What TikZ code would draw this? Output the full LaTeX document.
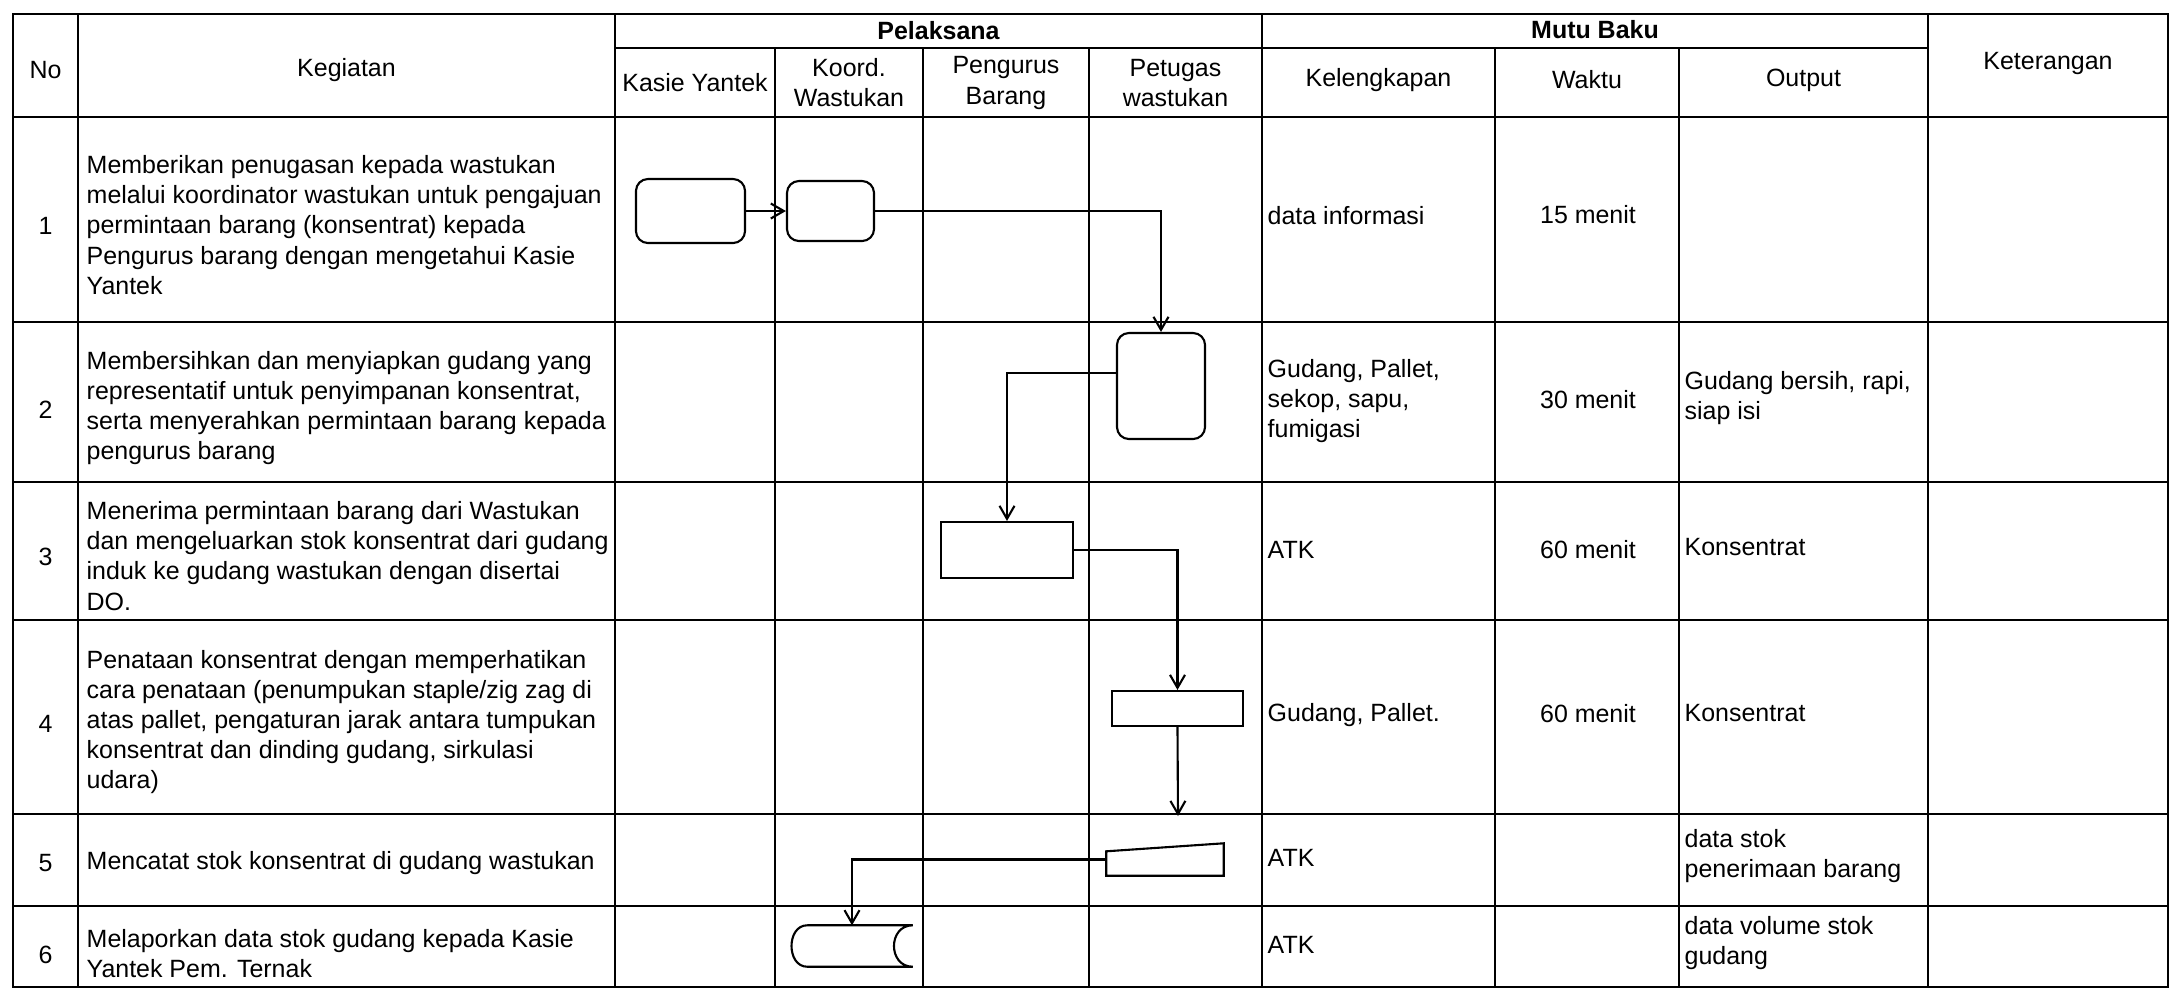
\documentclass[tikz,border=0pt]{standalone}
\usepackage{fontspec}
\setmainfont{Liberation Sans}
\usetikzlibrary{
    arrows.meta,
}
\tikzstyle{cell} = [inner sep=0pt, align=left,
    font=\fontsize{7.1pt}{8.55pt}\selectfont]
\tikzstyle{head} = [cell, align=center]
\tikzstyle{headb} = [head, font=\fontsize{7.1pt}{8.55pt}\selectfont\bfseries]
\tikzstyle{rbox} = [rectangle, draw, rounded corners=0.12cm, line width=0.6pt]
\tikzstyle{sbox} = [rectangle, draw, line width=0.6pt]
\tikzstyle{ghost} = [rectangle, inner sep=0pt]
\tikzstyle{line} = [draw, line width=0.6pt]
\tikzstyle{grid} = [draw, line width=0.7pt]

\begin{document}
\begin{tikzpicture}[x=0.01cm, y=-0.01cm,
        >={Straight Barb[length=0.13cm,width=0.15cm]}]
        \useasboundingbox (0,0) rectangle (2177,996);
        % Table frame
        \draw [grid] (13,14) rectangle (2168,987);
        \foreach \y in {117,322,482,620,814,906}
            \draw [grid] (13,\y) -- (2168,\y);
        \draw [grid] (615,48) -- (1928,48);
        \foreach \x in {78,615,1262,1928}
            \draw [grid] (\x,14) -- (\x,987);
        \foreach \x in {775,923,1089,1495,1679}
            \draw [grid] (\x,48) -- (\x,987);
        % Header
        \node [head] (no) at (45.5,70) {No};
        \node [head] (kegiatan) at (346.5,70) {Kegiatan};
        \node [headb] (pelaksana) at (938.5,31) {Pelaksana};
        \node [headb] (mutu) at (1595,30) {Mutu Baku};
        \node [head] (keterangan) at (2048,63) {Keterangan};
        \node [head] (kasie) at (695,83) {Kasie Yantek};
        \node [head] (koord) at (849,83) {Koord.\\Wastukan};
        \node [head] (pengurus) at (1006,83) {Pengurus\\Barang};
        \node [head] (petugas) at (1175.5,83) {Petugas\\wastukan};
        \node [head] (kelengkapan) at (1378.5,80) {Kelengkapan};
        \node [head] (waktu) at (1587,80) {Waktu};
        \node [head] (output) at (1803.5,80) {Output};
        % Numbers
        \node [head] (n1) at (45.5,226) {1};
        \node [head] (n2) at (45.5,410) {2};
        \node [head] (n3) at (45.5,557) {3};
        \node [head] (n4) at (45.5,724) {4};
        \node [head] (n5) at (45.5,863) {5};
        \node [head] (n6) at (45.5,955) {6};
        % Kegiatan
        \node [cell, anchor=west] (keg1) at (86,225) {Memberikan penugasan kepada wastukan\\melalui koordinator wastukan untuk pengajuan\\permintaan barang (konsentrat) kepada\\Pengurus barang dengan mengetahui Kasie\\Yantek};
        \node [cell, anchor=west] (keg2) at (86,408) {Membersihkan dan menyiapkan gudang yang\\representatif untuk penyimpanan konsentrat,\\serta menyerahkan permintaan barang kepada\\pengurus barang};
        \node [cell, anchor=west] (keg3) at (86,556) {Menerima permintaan barang dari Wastukan\\dan mengeluarkan stok konsentrat dari gudang\\induk ke gudang wastukan dengan disertai\\DO.};
        \node [cell, anchor=west] (keg4) at (86,722) {Penataan konsentrat dengan memperhatikan\\cara penataan (penumpukan staple/zig zag di\\atas pallet, pengaturan jarak antara tumpukan\\konsentrat dan dinding gudang, sirkulasi\\udara)};
        \node [cell, anchor=west] (keg5) at (86,863) {Mencatat stok konsentrat di gudang wastukan};
        \node [cell, anchor=west] (keg6) at (86,954) {Melaporkan data stok gudang kepada Kasie\\Yantek Pem. Ternak};
        % Mutu baku
        \node [cell, anchor=west] (kel1) at (1267,216) {data informasi};
        \node [cell, anchor=west] (kel2) at (1267,401) {Gudang, Pallet,\\sekop, sapu,\\fumigasi};
        \node [cell, anchor=west] (kel3) at (1267,550) {ATK};
        \node [cell, anchor=west] (kel4) at (1267,715) {Gudang, Pallet.};
        \node [cell, anchor=west] (kel5) at (1267,858) {ATK};
        \node [cell, anchor=west] (kel6) at (1267,945) {ATK};
        \node [head] (wak1) at (1588,215) {15 menit};
        \node [head] (wak2) at (1588,400) {30 menit};
        \node [head] (wak3) at (1588,550) {60 menit};
        \node [head] (wak4) at (1588,714) {60 menit};
        \node [cell, anchor=west] (out2) at (1684,398) {Gudang bersih, rapi,\\siap isi};
        \node [cell, anchor=west] (out3) at (1684,547) {Konsentrat};
        \node [cell, anchor=west] (out4) at (1684,713) {Konsentrat};
        \node [cell, anchor=west] (out5) at (1684,856) {data stok\\penerimaan barang};
        \node [cell, anchor=west] (out6) at (1684,943) {data volume stok\\gudang};
        % Place nodes
        \node [rbox, minimum width=1.09cm, minimum height=0.64cm] (kasie1) at (690.5,211) {};
        \node [rbox, minimum width=0.87cm, minimum height=0.60cm] (koord1) at (830.5,211) {};
        \node [rbox, minimum width=0.88cm, minimum height=1.06cm] (petugas2) at (1161,386) {};
        \node [sbox, minimum width=1.32cm, minimum height=0.56cm] (pengurus3) at (1007,550) {};
        \node [sbox, minimum width=1.31cm, minimum height=0.35cm] (petugas4) at (1177.5,708.5) {};
        \node [ghost, minimum width=1.16cm, minimum height=0.31cm] (petugas5) at (1165,859.5) {};
        \node [ghost, minimum width=1.20cm, minimum height=0.40cm] (koord6) at (852,946) {};
        \coordinate (end4) at (1178,816);
        % Manual input and stored data outlines
        \path [line] (petugas5.south west) -- ([yshift=-0.08cm]petugas5.north west)
            -- (petugas5.north east) -- (petugas5.south east) -- cycle;
        \path [line] ([xshift=0.16cm]koord6.north west) -- (koord6.north east)
            .. controls ([xshift=-0.25cm]koord6.north east) and ([xshift=-0.25cm]koord6.south east) .. (koord6.south east)
            -- ([xshift=0.16cm]koord6.south west)
            .. controls ([xshift=-0.05cm]koord6.south west) and ([xshift=-0.05cm]koord6.north west) .. ([xshift=0.16cm]koord6.north west);
        % Draw edges
        \path [->,line] (kasie1.east) -- (koord1.west);
        \path [->,line] (koord1.east) -| (petugas2.north);
        \path [->,line] ([yshift=0.13cm]petugas2.west) -| (pengurus3.north);
        \path [->,line] (pengurus3.east) -| (petugas4.north);
        \path [->,line] (petugas4.south) -- (end4);
        \path [->,line] (petugas5.west) -| (koord6.north);
    \end{tikzpicture}
\end{document}
